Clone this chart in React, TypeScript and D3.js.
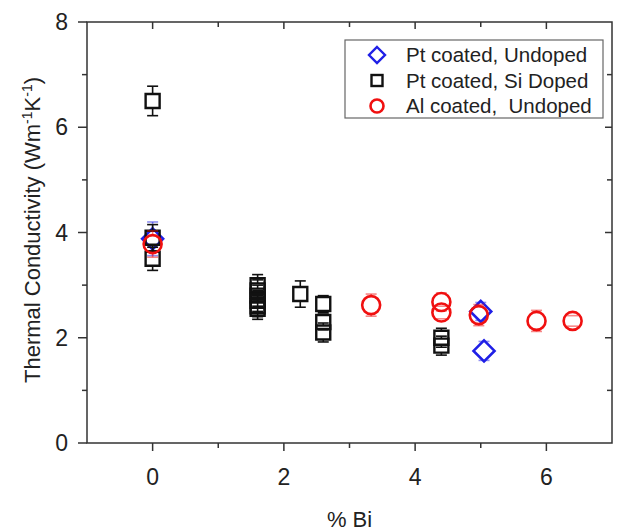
import React from "react";
import * as d3 from "d3";

// data
const blueX = [0, 5.0, 5.05];
const blueY = [3.88, 2.5, 1.75];
const blueErr = [0.32, 0.17, 0.18];

const blackX = [0, 0, 0, 1.6, 1.6, 1.6, 1.6, 1.6, 1.6, 2.25, 2.6, 2.6, 2.6, 4.4, 4.4];
const blackY = [6.5, 3.9, 3.5, 3.0, 2.9, 2.8, 2.7, 2.6, 2.55, 2.83, 2.64, 2.3, 2.1, 2.0, 1.85];
const blackErr = [0.28, 0.25, 0.22, 0.2, 0.2, 0.2, 0.2, 0.2, 0.2, 0.25, 0.16, 0.15, 0.18, 0.18, 0.18];

const redX = [0, 3.33, 4.4, 4.4, 4.97, 5.85, 6.4];
const redY = [3.78, 2.62, 2.68, 2.48, 2.43, 2.32, 2.32];
const redErr = [0.25, 0.21, 0.17, 0.12, 0.2, 0.2, 0.1];

const legendLabels = ["Pt coated, Undoped", "Pt coated, Si Doped", "Al coated,  Undoped"];
const xTicks = [0, 2, 4, 6];
const yTicks = [0, 2, 4, 6, 8];

const W = 618;
const H = 532;
const m = { left: 87, right: 6, top: 22, bottom: 89 };
const font = "'Liberation Sans', Arial, sans-serif";
const axisColor = "#333";

type Shape = "diamond" | "square" | "circle";

function markerPath(shape: Shape, cx: number, cy: number) {
  if (shape === "diamond") {
    const r = 10.5;
    return `M${cx},${cy - r}L${cx + r},${cy}L${cx},${cy + r}L${cx - r},${cy}Z`;
  }
  if (shape === "square") {
    const r = 7;
    return `M${cx - r},${cy - r}H${cx + r}V${cy + r}H${cx - r}Z`;
  }
  return "";
}

const halfSize: Record<Shape, number> = { diamond: 10.5, square: 7, circle: 9 };

export default function App() {
  const x = d3.scaleLinear().domain([-1, 7]).range([m.left, W - m.right]);
  const y = d3.scaleLinear().domain([0, 8]).range([H - m.bottom, m.top]);

  const series = [
    { xs: blueX, ys: blueY, errs: blueErr, color: "#1f1fe6", errOpacity: 0.5, shape: "diamond" as Shape },
    { xs: blackX, ys: blackY, errs: blackErr, color: "#111", errOpacity: 1, shape: "square" as Shape },
    { xs: redX, ys: redY, errs: redErr, color: "#f01010", errOpacity: 0.5, shape: "circle" as Shape },
  ];

  const x0 = x.range()[0];
  const x1 = x.range()[1];
  const y0 = y.range()[0];
  const y1 = y.range()[1];
  const minorX = d3.range(-1, 8, 1);
  const minorY = d3.range(0, 9, 1);

  const marker = (shape: Shape, cx: number, cy: number, color: string, key?: string) =>
    shape === "circle" ? (
      <circle key={key} cx={cx} cy={cy} r={9} fill="none" stroke={color} strokeWidth={2.6} />
    ) : (
      <path key={key} d={markerPath(shape, cx, cy)} fill="none" stroke={color} strokeWidth={shape === "square" ? 2.4 : 2.6} />
    );

  return (
    <svg width={W} height={H} style={{ position: "absolute", left: 0, top: 0, background: "#fff" }}>
      {/* frame */}
      <rect x={x0} y={y1} width={x1 - x0} height={y0 - y1} fill="none" stroke={axisColor} strokeWidth={1.5} />

      {/* bottom ticks (outward) + top ticks (inward) */}
      {minorX.map((v) => {
        const major = xTicks.includes(v);
        const px = x(v);
        return (
          <g key={"xt" + v}>
            {v > -1 && v < 7 && (
              <>
                <line x1={px} x2={px} y1={y0} y2={y0 + (major ? 8 : 5)} stroke={axisColor} strokeWidth={1.5} />
                <line x1={px} x2={px} y1={y1} y2={y1 + (major ? 7 : 5)} stroke={axisColor} strokeWidth={1.5} />
              </>
            )}
          </g>
        );
      })}
      {xTicks.map((v) => (
        <text key={"xl" + v} x={x(v)} y={y0 + 42} textAnchor="middle" fontSize={23} fontFamily={font} fill="#222">
          {v}
        </text>
      ))}

      {/* left ticks (outward) + right ticks (inward) */}
      {minorY.map((v) => {
        const major = yTicks.includes(v);
        const py = y(v);
        return (
          <g key={"yt" + v}>
            <line x1={x0 - (major ? 9 : 5)} x2={x0} y1={py} y2={py} stroke={axisColor} strokeWidth={1.5} />
            {v > 0 && v < 8 && (
              <line x1={x1 - (major ? 7 : 5)} x2={x1} y1={py} y2={py} stroke={axisColor} strokeWidth={1.5} />
            )}
          </g>
        );
      })}
      {yTicks.map((v) => (
        <text key={"yl" + v} x={x0 - 19} y={y(v) + 8} textAnchor="end" fontSize={23} fontFamily={font} fill="#222">
          {v}
        </text>
      ))}

      {/* axis titles */}
      <text x={(x0 + x1) / 2} y={527} textAnchor="middle" fontSize={22} fontFamily={font} fill="#222">
        % Bi
      </text>
      <text transform={`translate(40,230) rotate(-90)`} textAnchor="middle" fontSize={22} fontFamily={font} fill="#222">
        Thermal Conductivity (Wm<tspan dy={-8} fontSize={14}>-1</tspan>
        <tspan dy={8}>K</tspan>
        <tspan dy={-8} fontSize={14}>-1</tspan>
        <tspan dy={8}>)</tspan>
      </text>

      {/* error bars + markers */}
      {series.map((s, si) => (
        <g key={"s" + si}>
          {s.xs.map((xv, i) => {
            const cx = x(xv);
            const cy = y(s.ys[i]);
            const top = y(s.ys[i] + s.errs[i]);
            const bot = y(s.ys[i] - s.errs[i]);
            const h = halfSize[s.shape];
            return (
              <g key={i} stroke={s.color} strokeOpacity={s.errOpacity} strokeWidth={1.6}>
                {top < cy - h && <line x1={cx} x2={cx} y1={top} y2={cy - h} />}
                {bot > cy + h && <line x1={cx} x2={cx} y1={cy + h} y2={bot} />}
                <line x1={cx - 5.5} x2={cx + 5.5} y1={top} y2={top} />
                <line x1={cx - 5.5} x2={cx + 5.5} y1={bot} y2={bot} />
              </g>
            );
          })}
          {s.xs.map((xv, i) => marker(s.shape, x(xv), y(s.ys[i]), s.color, "m" + i))}
        </g>
      ))}

      {/* legend */}
      <rect x={345} y={40} width={258} height={78} fill="#fff" stroke="#666" strokeWidth={1.2} />
      {legendLabels.map((lab, i) => {
        const ly = 55 + i * 25.5;
        const s = series[i];
        return (
          <g key={"lg" + i}>
            {s.shape === "circle" ? (
              <circle cx={377} cy={ly} r={6.5} fill="none" stroke={s.color} strokeWidth={2.6} />
            ) : s.shape === "square" ? (
              <rect x={371.5} y={ly - 5.5} width={11} height={11} fill="none" stroke={s.color} strokeWidth={2.4} />
            ) : (
              <path d={`M377,${ly - 8}L385,${ly}L377,${ly + 8}L369,${ly}Z`} fill="none" stroke={s.color} strokeWidth={2.4} />
            )}
            <text x={406} y={ly + 7} fontSize={20.5} fontFamily={font} fill="#222" style={{ whiteSpace: "pre" }}>
              {lab}
            </text>
          </g>
        );
      })}
    </svg>
  );
}
